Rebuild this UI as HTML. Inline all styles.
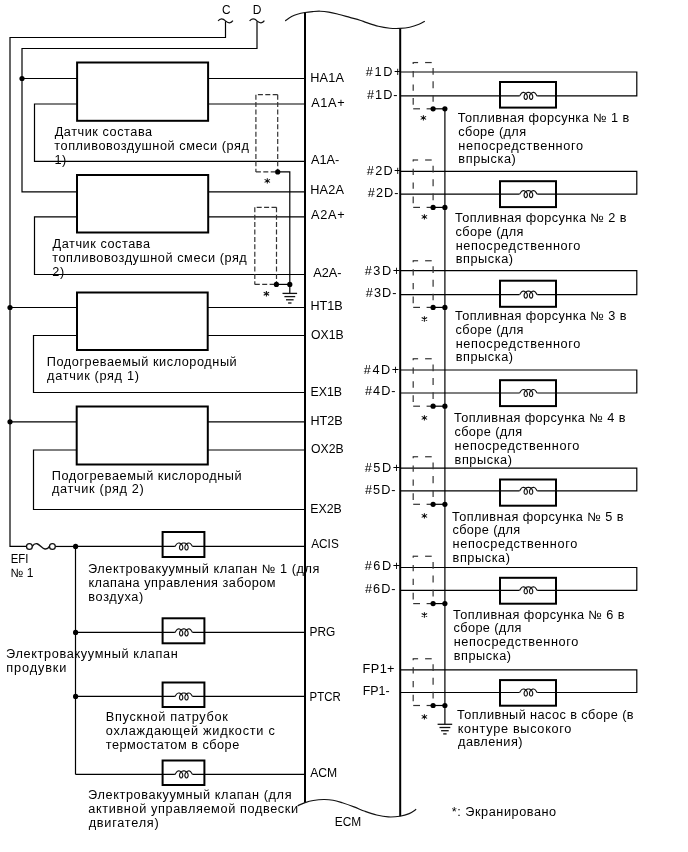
<!DOCTYPE html>
<html><head><meta charset="utf-8"><style>
html,body{margin:0;padding:0;background:#fff;width:688px;height:852px;overflow:hidden}
svg{display:block;will-change:transform}
text{font-family:"Liberation Sans",sans-serif;fill:#000}
</style></head><body>
<svg width="688" height="852" viewBox="0 0 688 852">
<rect width="688" height="852" fill="#fff"/>
<path d="M218.1,21 C219.9,18.1 222.9,18.1 225.5,20.9 C228.1,23.5 231.1,23.4 232.9,20.7" fill="none" stroke="#111" stroke-width="1.2"/>
<path d="M249.6,21 C251.4,18.1 254.4,18.1 257.0,20.9 C259.6,23.5 262.6,23.4 264.4,20.7" fill="none" stroke="#111" stroke-width="1.2"/>
<polyline points="225.5,21.2 225.5,37.5 10.0,37.5 10.0,546.45 26.5,546.45" fill="none" stroke="#000" stroke-width="1.2"/>
<polyline points="257.0,21.2 257.0,48.5 22.0,48.5 22.0,191.8 305.0,191.8" fill="none" stroke="#000" stroke-width="1.2"/>
<line x1="22.0" y1="78.5" x2="305.0" y2="78.5" stroke="#000" stroke-width="1.2"/>
<polyline points="305.0,104 34.5,104 34.5,161.3 305.0,161.3" fill="none" stroke="#000" stroke-width="1.2"/>
<polyline points="305.0,216.8 34.5,216.8 34.5,274.5 305.0,274.5" fill="none" stroke="#000" stroke-width="1.2"/>
<line x1="10.0" y1="307.5" x2="305.0" y2="307.5" stroke="#000" stroke-width="1.2"/>
<polyline points="305.0,335.5 33.5,335.5 33.5,392.5 305.0,392.5" fill="none" stroke="#000" stroke-width="1.2"/>
<line x1="10.0" y1="421.8" x2="305.0" y2="421.8" stroke="#000" stroke-width="1.2"/>
<polyline points="305.0,450 33.5,450 33.5,509.5 305.0,509.5" fill="none" stroke="#000" stroke-width="1.2"/>
<line x1="55.4" y1="546.45" x2="76.0" y2="546.45" stroke="#000" stroke-width="1.2"/>
<line x1="75.5" y1="546.45" x2="75.5" y2="774.4" stroke="#000" stroke-width="1.2"/>
<path d="M174.90,546.45 C175.80,545.85 176.30,543.05 178.47,542.95 L178.99,542.98 L179.50,543.09 L179.99,543.25 L180.46,543.48 L180.90,543.77 L181.31,544.11 L181.67,544.49 L181.99,544.92 L182.26,545.37 L182.47,545.84 L182.63,546.33 L182.74,546.82 L182.79,547.30 L182.78,547.76 L182.73,548.20 L182.62,548.60 L182.48,548.97 L182.29,549.28 L182.07,549.54 L181.83,549.74 L181.56,549.87 L181.29,549.94 L181.01,549.94 L180.74,549.87 L180.47,549.74 L180.23,549.54 L180.01,549.28 L179.82,548.97 L179.68,548.60 L179.57,548.20 L179.52,547.76 L179.51,547.30 L179.56,546.82 L179.67,546.33 L179.83,545.84 L180.04,545.37 L180.31,544.92 L180.63,544.49 L180.99,544.11 L181.40,543.77 L181.84,543.48 L182.31,543.25 L182.80,543.09 L183.31,542.98 L183.83,542.95 L184.34,542.98 L184.85,543.09 L185.34,543.25 L185.81,543.48 L186.25,543.77 L186.66,544.11 L187.02,544.49 L187.34,544.92 L187.61,545.37 L187.82,545.84 L187.98,546.33 L188.09,546.82 L188.14,547.30 L188.13,547.76 L188.08,548.20 L187.97,548.60 L187.83,548.97 L187.64,549.28 L187.42,549.54 L187.18,549.74 L186.91,549.87 L186.64,549.94 L186.36,549.94 L186.09,549.87 L185.82,549.74 L185.58,549.54 L185.36,549.28 L185.17,548.97 L185.03,548.60 L184.92,548.20 L184.87,547.76 L184.86,547.30 L184.91,546.82 L185.02,546.33 L185.18,545.84 L185.39,545.37 L185.66,544.92 L185.98,544.49 L186.34,544.11 L186.75,543.77 L187.19,543.48 L187.66,543.25 L188.15,543.09 L188.66,542.98 L189.18,542.95 C191.20,543.05 191.70,545.85 192.60,546.45" fill="none" stroke="#111" stroke-width="1.15" stroke-linejoin="round"/>
<line x1="75.5" y1="546.45" x2="174.9" y2="546.45" stroke="#000" stroke-width="1.2"/>
<line x1="192.6" y1="546.45" x2="305.0" y2="546.45" stroke="#000" stroke-width="1.2"/>
<path d="M174.90,632.40 C175.80,631.80 176.30,629.00 178.47,628.90 L178.99,628.93 L179.50,629.04 L179.99,629.20 L180.46,629.43 L180.90,629.72 L181.31,630.06 L181.67,630.44 L181.99,630.87 L182.26,631.32 L182.47,631.79 L182.63,632.28 L182.74,632.77 L182.79,633.25 L182.78,633.71 L182.73,634.15 L182.62,634.55 L182.48,634.92 L182.29,635.23 L182.07,635.49 L181.83,635.69 L181.56,635.82 L181.29,635.89 L181.01,635.89 L180.74,635.82 L180.47,635.69 L180.23,635.49 L180.01,635.23 L179.82,634.92 L179.68,634.55 L179.57,634.15 L179.52,633.71 L179.51,633.25 L179.56,632.77 L179.67,632.28 L179.83,631.79 L180.04,631.32 L180.31,630.87 L180.63,630.44 L180.99,630.06 L181.40,629.72 L181.84,629.43 L182.31,629.20 L182.80,629.04 L183.31,628.93 L183.83,628.90 L184.34,628.93 L184.85,629.04 L185.34,629.20 L185.81,629.43 L186.25,629.72 L186.66,630.06 L187.02,630.44 L187.34,630.87 L187.61,631.32 L187.82,631.79 L187.98,632.28 L188.09,632.77 L188.14,633.25 L188.13,633.71 L188.08,634.15 L187.97,634.55 L187.83,634.92 L187.64,635.23 L187.42,635.49 L187.18,635.69 L186.91,635.82 L186.64,635.89 L186.36,635.89 L186.09,635.82 L185.82,635.69 L185.58,635.49 L185.36,635.23 L185.17,634.92 L185.03,634.55 L184.92,634.15 L184.87,633.71 L184.86,633.25 L184.91,632.77 L185.02,632.28 L185.18,631.79 L185.39,631.32 L185.66,630.87 L185.98,630.44 L186.34,630.06 L186.75,629.72 L187.19,629.43 L187.66,629.20 L188.15,629.04 L188.66,628.93 L189.18,628.90 C191.20,629.00 191.70,631.80 192.60,632.40" fill="none" stroke="#111" stroke-width="1.15" stroke-linejoin="round"/>
<line x1="75.5" y1="632.4" x2="174.9" y2="632.4" stroke="#000" stroke-width="1.2"/>
<line x1="192.6" y1="632.4" x2="305.0" y2="632.4" stroke="#000" stroke-width="1.2"/>
<path d="M174.90,696.45 C175.80,695.85 176.30,693.05 178.47,692.95 L178.99,692.98 L179.50,693.09 L179.99,693.25 L180.46,693.48 L180.90,693.77 L181.31,694.11 L181.67,694.49 L181.99,694.92 L182.26,695.37 L182.47,695.84 L182.63,696.33 L182.74,696.82 L182.79,697.30 L182.78,697.76 L182.73,698.20 L182.62,698.60 L182.48,698.97 L182.29,699.28 L182.07,699.54 L181.83,699.74 L181.56,699.87 L181.29,699.94 L181.01,699.94 L180.74,699.87 L180.47,699.74 L180.23,699.54 L180.01,699.28 L179.82,698.97 L179.68,698.60 L179.57,698.20 L179.52,697.76 L179.51,697.30 L179.56,696.82 L179.67,696.33 L179.83,695.84 L180.04,695.37 L180.31,694.92 L180.63,694.49 L180.99,694.11 L181.40,693.77 L181.84,693.48 L182.31,693.25 L182.80,693.09 L183.31,692.98 L183.83,692.95 L184.34,692.98 L184.85,693.09 L185.34,693.25 L185.81,693.48 L186.25,693.77 L186.66,694.11 L187.02,694.49 L187.34,694.92 L187.61,695.37 L187.82,695.84 L187.98,696.33 L188.09,696.82 L188.14,697.30 L188.13,697.76 L188.08,698.20 L187.97,698.60 L187.83,698.97 L187.64,699.28 L187.42,699.54 L187.18,699.74 L186.91,699.87 L186.64,699.94 L186.36,699.94 L186.09,699.87 L185.82,699.74 L185.58,699.54 L185.36,699.28 L185.17,698.97 L185.03,698.60 L184.92,698.20 L184.87,697.76 L184.86,697.30 L184.91,696.82 L185.02,696.33 L185.18,695.84 L185.39,695.37 L185.66,694.92 L185.98,694.49 L186.34,694.11 L186.75,693.77 L187.19,693.48 L187.66,693.25 L188.15,693.09 L188.66,692.98 L189.18,692.95 C191.20,693.05 191.70,695.85 192.60,696.45" fill="none" stroke="#111" stroke-width="1.15" stroke-linejoin="round"/>
<line x1="75.5" y1="696.45" x2="174.9" y2="696.45" stroke="#000" stroke-width="1.2"/>
<line x1="192.6" y1="696.45" x2="305.0" y2="696.45" stroke="#000" stroke-width="1.2"/>
<path d="M174.90,774.40 C175.80,773.80 176.30,771.00 178.47,770.90 L178.99,770.93 L179.50,771.04 L179.99,771.20 L180.46,771.43 L180.90,771.72 L181.31,772.06 L181.67,772.44 L181.99,772.87 L182.26,773.32 L182.47,773.79 L182.63,774.28 L182.74,774.77 L182.79,775.25 L182.78,775.71 L182.73,776.15 L182.62,776.55 L182.48,776.92 L182.29,777.23 L182.07,777.49 L181.83,777.69 L181.56,777.82 L181.29,777.89 L181.01,777.89 L180.74,777.82 L180.47,777.69 L180.23,777.49 L180.01,777.23 L179.82,776.92 L179.68,776.55 L179.57,776.15 L179.52,775.71 L179.51,775.25 L179.56,774.77 L179.67,774.28 L179.83,773.79 L180.04,773.32 L180.31,772.87 L180.63,772.44 L180.99,772.06 L181.40,771.72 L181.84,771.43 L182.31,771.20 L182.80,771.04 L183.31,770.93 L183.83,770.90 L184.34,770.93 L184.85,771.04 L185.34,771.20 L185.81,771.43 L186.25,771.72 L186.66,772.06 L187.02,772.44 L187.34,772.87 L187.61,773.32 L187.82,773.79 L187.98,774.28 L188.09,774.77 L188.14,775.25 L188.13,775.71 L188.08,776.15 L187.97,776.55 L187.83,776.92 L187.64,777.23 L187.42,777.49 L187.18,777.69 L186.91,777.82 L186.64,777.89 L186.36,777.89 L186.09,777.82 L185.82,777.69 L185.58,777.49 L185.36,777.23 L185.17,776.92 L185.03,776.55 L184.92,776.15 L184.87,775.71 L184.86,775.25 L184.91,774.77 L185.02,774.28 L185.18,773.79 L185.39,773.32 L185.66,772.87 L185.98,772.44 L186.34,772.06 L186.75,771.72 L187.19,771.43 L187.66,771.20 L188.15,771.04 L188.66,770.93 L189.18,770.90 C191.20,771.00 191.70,773.80 192.60,774.40" fill="none" stroke="#111" stroke-width="1.15" stroke-linejoin="round"/>
<line x1="75.5" y1="774.4" x2="174.9" y2="774.4" stroke="#000" stroke-width="1.2"/>
<line x1="192.6" y1="774.4" x2="305.0" y2="774.4" stroke="#000" stroke-width="1.2"/>
<path d="M277.7,94.7 H255.9" stroke="#333" stroke-width="1.2" stroke-dasharray="5 2.4" fill="none"/>
<path d="M277.7,94.7 V171.9" stroke="#333" stroke-width="1.2" stroke-dasharray="5 2.4" fill="none"/>
<path d="M255.9,94.7 V171.9" stroke="#333" stroke-width="1.2" stroke-dasharray="5 2.4" fill="none"/>
<path d="M255.9,171.9 H277.7" stroke="#333" stroke-width="1.2" stroke-dasharray="5 2.4" fill="none"/>
<path d="M276.5,207.3 H254.8" stroke="#333" stroke-width="1.2" stroke-dasharray="5 2.4" fill="none"/>
<path d="M276.5,207.3 V284.4" stroke="#333" stroke-width="1.2" stroke-dasharray="5 2.4" fill="none"/>
<path d="M254.8,207.3 V284.4" stroke="#333" stroke-width="1.2" stroke-dasharray="5 2.4" fill="none"/>
<path d="M254.8,284.4 H276.5" stroke="#333" stroke-width="1.2" stroke-dasharray="5 2.4" fill="none"/>
<polyline points="277.7,171.9 289.8,171.9 289.8,293.4" fill="none" stroke="#000" stroke-width="1.2"/>
<line x1="276.5" y1="284.4" x2="289.8" y2="284.4" stroke="#000" stroke-width="1.2"/>
<line x1="282.5" y1="293.4" x2="297.1" y2="293.4" stroke="#111" stroke-width="1.3"/>
<line x1="284.40000000000003" y1="296.59999999999997" x2="295.2" y2="296.59999999999997" stroke="#111" stroke-width="1.3"/>
<line x1="286.0" y1="299.79999999999995" x2="293.6" y2="299.79999999999995" stroke="#111" stroke-width="1.3"/>
<line x1="288.1" y1="303.0" x2="291.5" y2="303.0" stroke="#111" stroke-width="1.3"/>
<circle cx="277.7" cy="171.9" r="2.6" fill="#000"/>
<circle cx="276.4" cy="284.4" r="2.6" fill="#000"/>
<circle cx="289.8" cy="284.4" r="2.6" fill="#000"/>
<circle cx="22.0" cy="78.5" r="2.6" fill="#000"/>
<circle cx="10.0" cy="307.5" r="2.6" fill="#000"/>
<circle cx="10.0" cy="421.8" r="2.6" fill="#000"/>
<circle cx="75.6" cy="546.45" r="2.6" fill="#000"/>
<circle cx="75.6" cy="632.4" r="2.6" fill="#000"/>
<circle cx="75.6" cy="696.45" r="2.6" fill="#000"/>
<rect x="77.1" y="62.5" width="131.0" height="58.3" fill="#fff" stroke="#000" stroke-width="2.0"/>
<rect x="77" y="175" width="131.2" height="57.5" fill="#fff" stroke="#000" stroke-width="2.0"/>
<rect x="77" y="292.5" width="130.7" height="57.5" fill="#fff" stroke="#000" stroke-width="2.0"/>
<rect x="76.7" y="406.5" width="131.10000000000002" height="58.0" fill="#fff" stroke="#000" stroke-width="2.0"/>
<rect x="162.6" y="532" width="41.80000000000001" height="25" fill="none" stroke="#000" stroke-width="2.0"/>
<rect x="162.6" y="618.3" width="41.80000000000001" height="25.0" fill="none" stroke="#000" stroke-width="2.0"/>
<rect x="162.6" y="682.5" width="41.80000000000001" height="24.5" fill="none" stroke="#000" stroke-width="2.0"/>
<rect x="162.6" y="760.5" width="41.80000000000001" height="24.5" fill="none" stroke="#000" stroke-width="2.0"/>
<circle cx="29.4" cy="546.45" r="2.9" fill="#fff" stroke="#111" stroke-width="1.3"/>
<circle cx="52.4" cy="546.45" r="2.9" fill="#fff" stroke="#111" stroke-width="1.3"/>
<path d="M32.3,546.3 C34,543.6 35.5,543.4 37,543.7 C39.5,544.3 42.5,549 45,549 C47,549.2 48.5,548 49.5,546.3" fill="none" stroke="#111" stroke-width="1.4"/>
<path d="M519.50,95.90 C520.40,95.30 520.90,92.50 523.08,92.40 L523.59,92.43 L524.10,92.54 L524.59,92.70 L525.06,92.93 L525.50,93.22 L525.91,93.56 L526.27,93.94 L526.59,94.37 L526.86,94.82 L527.07,95.29 L527.23,95.78 L527.34,96.27 L527.39,96.75 L527.38,97.21 L527.33,97.65 L527.22,98.05 L527.08,98.42 L526.89,98.73 L526.67,98.99 L526.43,99.19 L526.16,99.32 L525.89,99.39 L525.61,99.39 L525.34,99.32 L525.07,99.19 L524.83,98.99 L524.61,98.73 L524.42,98.42 L524.28,98.05 L524.17,97.65 L524.12,97.21 L524.11,96.75 L524.16,96.27 L524.27,95.78 L524.43,95.29 L524.64,94.82 L524.91,94.37 L525.23,93.94 L525.59,93.56 L526.00,93.22 L526.44,92.93 L526.91,92.70 L527.40,92.54 L527.91,92.43 L528.42,92.40 L528.94,92.43 L529.45,92.54 L529.94,92.70 L530.41,92.93 L530.85,93.22 L531.26,93.56 L531.62,93.94 L531.94,94.37 L532.21,94.82 L532.42,95.29 L532.58,95.78 L532.69,96.27 L532.74,96.75 L532.73,97.21 L532.68,97.65 L532.57,98.05 L532.43,98.42 L532.24,98.73 L532.02,98.99 L531.78,99.19 L531.51,99.32 L531.24,99.39 L530.96,99.39 L530.69,99.32 L530.42,99.19 L530.18,98.99 L529.96,98.73 L529.77,98.42 L529.63,98.05 L529.52,97.65 L529.47,97.21 L529.46,96.75 L529.51,96.27 L529.62,95.78 L529.78,95.29 L529.99,94.82 L530.26,94.37 L530.58,93.94 L530.94,93.56 L531.35,93.22 L531.79,92.93 L532.26,92.70 L532.75,92.54 L533.26,92.43 L533.77,92.40 C535.80,92.50 536.30,95.30 537.20,95.90" fill="none" stroke="#111" stroke-width="1.15" stroke-linejoin="round"/>
<polyline points="519.5,95.9 400.2,95.9" fill="none" stroke="#000" stroke-width="1.2"/>
<polyline points="537.2,95.9 636.8,95.9 636.8,72.0 400.2,72.0" fill="none" stroke="#000" stroke-width="1.2"/>
<line x1="413.2" y1="62.55" x2="418.09999999999997" y2="62.55" stroke="#333" stroke-width="1.2"/>
<line x1="425.09999999999997" y1="62.55" x2="431.7" y2="62.55" stroke="#333" stroke-width="1.2"/>
<line x1="433.09999999999997" y1="68.1" x2="433.09999999999997" y2="74.7" stroke="#333" stroke-width="1.2"/>
<line x1="433.09999999999997" y1="81.3" x2="433.09999999999997" y2="88.25" stroke="#333" stroke-width="1.2"/>
<line x1="433.09999999999997" y1="95.19999999999999" x2="433.09999999999997" y2="101.8" stroke="#333" stroke-width="1.2"/>
<line x1="413.2" y1="108.8" x2="420.0" y2="108.8" stroke="#333" stroke-width="1.2"/>
<line x1="426.59999999999997" y1="108.8" x2="433.09999999999997" y2="108.8" stroke="#333" stroke-width="1.2"/>
<line x1="413.2" y1="62.05" x2="413.2" y2="64.05" stroke="#333" stroke-width="1.2"/>
<line x1="413.2" y1="71.0" x2="413.2" y2="77.2" stroke="#333" stroke-width="1.2"/>
<line x1="413.2" y1="84.6" x2="413.2" y2="90.69999999999999" stroke="#333" stroke-width="1.2"/>
<line x1="413.2" y1="98.1" x2="413.2" y2="104.69999999999999" stroke="#333" stroke-width="1.2"/>
<rect x="500.0" y="82.0" width="56.0" height="25.599999999999994" fill="none" stroke="#000" stroke-width="2.0"/>
<line x1="433.1" y1="108.8" x2="444.9" y2="108.8" stroke="#000" stroke-width="1.2"/>
<circle cx="433.1" cy="108.8" r="2.6" fill="#000"/>
<circle cx="444.9" cy="108.8" r="2.6" fill="#000"/>
<path d="M519.50,194.10 C520.40,193.50 520.90,190.70 523.08,190.60 L523.59,190.63 L524.10,190.74 L524.59,190.90 L525.06,191.13 L525.50,191.42 L525.91,191.76 L526.27,192.14 L526.59,192.57 L526.86,193.02 L527.07,193.49 L527.23,193.98 L527.34,194.47 L527.39,194.95 L527.38,195.41 L527.33,195.85 L527.22,196.25 L527.08,196.62 L526.89,196.93 L526.67,197.19 L526.43,197.39 L526.16,197.52 L525.89,197.59 L525.61,197.59 L525.34,197.52 L525.07,197.39 L524.83,197.19 L524.61,196.93 L524.42,196.62 L524.28,196.25 L524.17,195.85 L524.12,195.41 L524.11,194.95 L524.16,194.47 L524.27,193.98 L524.43,193.49 L524.64,193.02 L524.91,192.57 L525.23,192.14 L525.59,191.76 L526.00,191.42 L526.44,191.13 L526.91,190.90 L527.40,190.74 L527.91,190.63 L528.42,190.60 L528.94,190.63 L529.45,190.74 L529.94,190.90 L530.41,191.13 L530.85,191.42 L531.26,191.76 L531.62,192.14 L531.94,192.57 L532.21,193.02 L532.42,193.49 L532.58,193.98 L532.69,194.47 L532.74,194.95 L532.73,195.41 L532.68,195.85 L532.57,196.25 L532.43,196.62 L532.24,196.93 L532.02,197.19 L531.78,197.39 L531.51,197.52 L531.24,197.59 L530.96,197.59 L530.69,197.52 L530.42,197.39 L530.18,197.19 L529.96,196.93 L529.77,196.62 L529.63,196.25 L529.52,195.85 L529.47,195.41 L529.46,194.95 L529.51,194.47 L529.62,193.98 L529.78,193.49 L529.99,193.02 L530.26,192.57 L530.58,192.14 L530.94,191.76 L531.35,191.42 L531.79,191.13 L532.26,190.90 L532.75,190.74 L533.26,190.63 L533.77,190.60 C535.80,190.70 536.30,193.50 537.20,194.10" fill="none" stroke="#111" stroke-width="1.15" stroke-linejoin="round"/>
<polyline points="519.5,194.1 400.2,194.1" fill="none" stroke="#000" stroke-width="1.2"/>
<polyline points="537.2,194.1 636.8,194.1 636.8,171.3 400.2,171.3" fill="none" stroke="#000" stroke-width="1.2"/>
<line x1="413.2" y1="160.0" x2="418.09999999999997" y2="160.0" stroke="#333" stroke-width="1.2"/>
<line x1="425.09999999999997" y1="160.0" x2="431.7" y2="160.0" stroke="#333" stroke-width="1.2"/>
<line x1="433.09999999999997" y1="165.688" x2="433.09999999999997" y2="172.45210810810812" stroke="#333" stroke-width="1.2"/>
<line x1="433.09999999999997" y1="179.21621621621622" x2="433.09999999999997" y2="186.33902702702704" stroke="#333" stroke-width="1.2"/>
<line x1="433.09999999999997" y1="193.46183783783783" x2="433.09999999999997" y2="200.22594594594597" stroke="#333" stroke-width="1.2"/>
<line x1="413.2" y1="207.4" x2="420.0" y2="207.4" stroke="#333" stroke-width="1.2"/>
<line x1="426.59999999999997" y1="207.4" x2="433.09999999999997" y2="207.4" stroke="#333" stroke-width="1.2"/>
<line x1="413.2" y1="159.48756756756757" x2="413.2" y2="161.5372972972973" stroke="#333" stroke-width="1.2"/>
<line x1="413.2" y1="168.66010810810812" x2="413.2" y2="175.0142702702703" stroke="#333" stroke-width="1.2"/>
<line x1="413.2" y1="182.5982702702703" x2="413.2" y2="188.84994594594596" stroke="#333" stroke-width="1.2"/>
<line x1="413.2" y1="196.43394594594594" x2="413.2" y2="203.19805405405407" stroke="#333" stroke-width="1.2"/>
<rect x="500.0" y="181.2" width="56.0" height="25.900000000000006" fill="none" stroke="#000" stroke-width="2.0"/>
<line x1="433.1" y1="207.4" x2="444.9" y2="207.4" stroke="#000" stroke-width="1.2"/>
<circle cx="433.1" cy="207.4" r="2.6" fill="#000"/>
<circle cx="444.9" cy="207.4" r="2.6" fill="#000"/>
<path d="M519.50,294.60 C520.40,294.00 520.90,291.20 523.08,291.10 L523.59,291.13 L524.10,291.24 L524.59,291.40 L525.06,291.63 L525.50,291.92 L525.91,292.26 L526.27,292.64 L526.59,293.07 L526.86,293.52 L527.07,293.99 L527.23,294.48 L527.34,294.97 L527.39,295.45 L527.38,295.91 L527.33,296.35 L527.22,296.75 L527.08,297.12 L526.89,297.43 L526.67,297.69 L526.43,297.89 L526.16,298.02 L525.89,298.09 L525.61,298.09 L525.34,298.02 L525.07,297.89 L524.83,297.69 L524.61,297.43 L524.42,297.12 L524.28,296.75 L524.17,296.35 L524.12,295.91 L524.11,295.45 L524.16,294.97 L524.27,294.48 L524.43,293.99 L524.64,293.52 L524.91,293.07 L525.23,292.64 L525.59,292.26 L526.00,291.92 L526.44,291.63 L526.91,291.40 L527.40,291.24 L527.91,291.13 L528.42,291.10 L528.94,291.13 L529.45,291.24 L529.94,291.40 L530.41,291.63 L530.85,291.92 L531.26,292.26 L531.62,292.64 L531.94,293.07 L532.21,293.52 L532.42,293.99 L532.58,294.48 L532.69,294.97 L532.74,295.45 L532.73,295.91 L532.68,296.35 L532.57,296.75 L532.43,297.12 L532.24,297.43 L532.02,297.69 L531.78,297.89 L531.51,298.02 L531.24,298.09 L530.96,298.09 L530.69,298.02 L530.42,297.89 L530.18,297.69 L529.96,297.43 L529.77,297.12 L529.63,296.75 L529.52,296.35 L529.47,295.91 L529.46,295.45 L529.51,294.97 L529.62,294.48 L529.78,293.99 L529.99,293.52 L530.26,293.07 L530.58,292.64 L530.94,292.26 L531.35,291.92 L531.79,291.63 L532.26,291.40 L532.75,291.24 L533.26,291.13 L533.77,291.10 C535.80,291.20 536.30,294.00 537.20,294.60" fill="none" stroke="#111" stroke-width="1.15" stroke-linejoin="round"/>
<polyline points="519.5,294.6 400.2,294.6" fill="none" stroke="#000" stroke-width="1.2"/>
<polyline points="537.2,294.6 636.8,294.6 636.8,270.6 400.2,270.6" fill="none" stroke="#000" stroke-width="1.2"/>
<line x1="413.2" y1="260.75" x2="418.09999999999997" y2="260.75" stroke="#333" stroke-width="1.2"/>
<line x1="425.09999999999997" y1="260.75" x2="431.7" y2="260.75" stroke="#333" stroke-width="1.2"/>
<line x1="433.09999999999997" y1="266.348" x2="433.09999999999997" y2="273.0050810810811" stroke="#333" stroke-width="1.2"/>
<line x1="433.09999999999997" y1="279.66216216216213" x2="433.09999999999997" y2="286.67227027027025" stroke="#333" stroke-width="1.2"/>
<line x1="433.09999999999997" y1="293.68237837837836" x2="433.09999999999997" y2="300.3394594594594" stroke="#333" stroke-width="1.2"/>
<line x1="413.2" y1="307.4" x2="420.0" y2="307.4" stroke="#333" stroke-width="1.2"/>
<line x1="426.59999999999997" y1="307.4" x2="433.09999999999997" y2="307.4" stroke="#333" stroke-width="1.2"/>
<line x1="413.2" y1="260.24567567567567" x2="413.2" y2="262.262972972973" stroke="#333" stroke-width="1.2"/>
<line x1="413.2" y1="269.2730810810811" x2="413.2" y2="275.5267027027027" stroke="#333" stroke-width="1.2"/>
<line x1="413.2" y1="282.9907027027027" x2="413.2" y2="289.14345945945945" stroke="#333" stroke-width="1.2"/>
<line x1="413.2" y1="296.60745945945945" x2="413.2" y2="303.2645405405405" stroke="#333" stroke-width="1.2"/>
<rect x="500.0" y="280.7" width="56.0" height="26.100000000000023" fill="none" stroke="#000" stroke-width="2.0"/>
<line x1="433.1" y1="307.4" x2="444.9" y2="307.4" stroke="#000" stroke-width="1.2"/>
<circle cx="433.1" cy="307.4" r="2.6" fill="#000"/>
<circle cx="444.9" cy="307.4" r="2.6" fill="#000"/>
<path d="M519.50,393.00 C520.40,392.40 520.90,389.60 523.08,389.50 L523.59,389.53 L524.10,389.64 L524.59,389.80 L525.06,390.03 L525.50,390.32 L525.91,390.66 L526.27,391.04 L526.59,391.47 L526.86,391.92 L527.07,392.39 L527.23,392.88 L527.34,393.37 L527.39,393.85 L527.38,394.31 L527.33,394.75 L527.22,395.15 L527.08,395.52 L526.89,395.83 L526.67,396.09 L526.43,396.29 L526.16,396.42 L525.89,396.49 L525.61,396.49 L525.34,396.42 L525.07,396.29 L524.83,396.09 L524.61,395.83 L524.42,395.52 L524.28,395.15 L524.17,394.75 L524.12,394.31 L524.11,393.85 L524.16,393.37 L524.27,392.88 L524.43,392.39 L524.64,391.92 L524.91,391.47 L525.23,391.04 L525.59,390.66 L526.00,390.32 L526.44,390.03 L526.91,389.80 L527.40,389.64 L527.91,389.53 L528.42,389.50 L528.94,389.53 L529.45,389.64 L529.94,389.80 L530.41,390.03 L530.85,390.32 L531.26,390.66 L531.62,391.04 L531.94,391.47 L532.21,391.92 L532.42,392.39 L532.58,392.88 L532.69,393.37 L532.74,393.85 L532.73,394.31 L532.68,394.75 L532.57,395.15 L532.43,395.52 L532.24,395.83 L532.02,396.09 L531.78,396.29 L531.51,396.42 L531.24,396.49 L530.96,396.49 L530.69,396.42 L530.42,396.29 L530.18,396.09 L529.96,395.83 L529.77,395.52 L529.63,395.15 L529.52,394.75 L529.47,394.31 L529.46,393.85 L529.51,393.37 L529.62,392.88 L529.78,392.39 L529.99,391.92 L530.26,391.47 L530.58,391.04 L530.94,390.66 L531.35,390.32 L531.79,390.03 L532.26,389.80 L532.75,389.64 L533.26,389.53 L533.77,389.50 C535.80,389.60 536.30,392.40 537.20,393.00" fill="none" stroke="#111" stroke-width="1.15" stroke-linejoin="round"/>
<polyline points="519.5,393.0 400.2,393.0" fill="none" stroke="#000" stroke-width="1.2"/>
<polyline points="537.2,393.0 636.8,393.0 636.8,370.0 400.2,370.0" fill="none" stroke="#000" stroke-width="1.2"/>
<line x1="413.2" y1="358.75" x2="418.09999999999997" y2="358.75" stroke="#333" stroke-width="1.2"/>
<line x1="425.09999999999997" y1="358.75" x2="431.7" y2="358.75" stroke="#333" stroke-width="1.2"/>
<line x1="433.09999999999997" y1="364.444" x2="433.09999999999997" y2="371.21524324324326" stroke="#333" stroke-width="1.2"/>
<line x1="433.09999999999997" y1="377.98648648648646" x2="433.09999999999997" y2="385.1168108108108" stroke="#333" stroke-width="1.2"/>
<line x1="433.09999999999997" y1="392.2471351351351" x2="433.09999999999997" y2="399.0183783783784" stroke="#333" stroke-width="1.2"/>
<line x1="413.2" y1="406.2" x2="420.0" y2="406.2" stroke="#333" stroke-width="1.2"/>
<line x1="426.59999999999997" y1="406.2" x2="433.09999999999997" y2="406.2" stroke="#333" stroke-width="1.2"/>
<line x1="413.2" y1="358.237027027027" x2="413.2" y2="360.2889189189189" stroke="#333" stroke-width="1.2"/>
<line x1="413.2" y1="367.4192432432432" x2="413.2" y2="373.7801081081081" stroke="#333" stroke-width="1.2"/>
<line x1="413.2" y1="381.3721081081081" x2="413.2" y2="387.6303783783784" stroke="#333" stroke-width="1.2"/>
<line x1="413.2" y1="395.2223783783784" x2="413.2" y2="401.9936216216216" stroke="#333" stroke-width="1.2"/>
<rect x="500.0" y="380.2" width="56.0" height="25.900000000000034" fill="none" stroke="#000" stroke-width="2.0"/>
<line x1="433.1" y1="406.2" x2="444.9" y2="406.2" stroke="#000" stroke-width="1.2"/>
<circle cx="433.1" cy="406.2" r="2.6" fill="#000"/>
<circle cx="444.9" cy="406.2" r="2.6" fill="#000"/>
<path d="M519.50,490.80 C520.40,490.20 520.90,487.40 523.08,487.30 L523.59,487.33 L524.10,487.44 L524.59,487.60 L525.06,487.83 L525.50,488.12 L525.91,488.46 L526.27,488.84 L526.59,489.27 L526.86,489.72 L527.07,490.19 L527.23,490.68 L527.34,491.17 L527.39,491.65 L527.38,492.11 L527.33,492.55 L527.22,492.95 L527.08,493.32 L526.89,493.63 L526.67,493.89 L526.43,494.09 L526.16,494.22 L525.89,494.29 L525.61,494.29 L525.34,494.22 L525.07,494.09 L524.83,493.89 L524.61,493.63 L524.42,493.32 L524.28,492.95 L524.17,492.55 L524.12,492.11 L524.11,491.65 L524.16,491.17 L524.27,490.68 L524.43,490.19 L524.64,489.72 L524.91,489.27 L525.23,488.84 L525.59,488.46 L526.00,488.12 L526.44,487.83 L526.91,487.60 L527.40,487.44 L527.91,487.33 L528.42,487.30 L528.94,487.33 L529.45,487.44 L529.94,487.60 L530.41,487.83 L530.85,488.12 L531.26,488.46 L531.62,488.84 L531.94,489.27 L532.21,489.72 L532.42,490.19 L532.58,490.68 L532.69,491.17 L532.74,491.65 L532.73,492.11 L532.68,492.55 L532.57,492.95 L532.43,493.32 L532.24,493.63 L532.02,493.89 L531.78,494.09 L531.51,494.22 L531.24,494.29 L530.96,494.29 L530.69,494.22 L530.42,494.09 L530.18,493.89 L529.96,493.63 L529.77,493.32 L529.63,492.95 L529.52,492.55 L529.47,492.11 L529.46,491.65 L529.51,491.17 L529.62,490.68 L529.78,490.19 L529.99,489.72 L530.26,489.27 L530.58,488.84 L530.94,488.46 L531.35,488.12 L531.79,487.83 L532.26,487.60 L532.75,487.44 L533.26,487.33 L533.77,487.30 C535.80,487.40 536.30,490.20 537.20,490.80" fill="none" stroke="#111" stroke-width="1.15" stroke-linejoin="round"/>
<polyline points="519.5,490.8 400.2,490.8" fill="none" stroke="#000" stroke-width="1.2"/>
<polyline points="537.2,490.8 636.8,490.8 636.8,468.2 400.2,468.2" fill="none" stroke="#000" stroke-width="1.2"/>
<line x1="413.2" y1="456.75" x2="418.09999999999997" y2="456.75" stroke="#333" stroke-width="1.2"/>
<line x1="425.09999999999997" y1="456.75" x2="431.7" y2="456.75" stroke="#333" stroke-width="1.2"/>
<line x1="433.09999999999997" y1="462.456" x2="433.09999999999997" y2="469.2415135135135" stroke="#333" stroke-width="1.2"/>
<line x1="433.09999999999997" y1="476.02702702702703" x2="433.09999999999997" y2="483.17237837837837" stroke="#333" stroke-width="1.2"/>
<line x1="433.09999999999997" y1="490.31772972972976" x2="433.09999999999997" y2="497.10324324324324" stroke="#333" stroke-width="1.2"/>
<line x1="413.2" y1="504.3" x2="420.0" y2="504.3" stroke="#333" stroke-width="1.2"/>
<line x1="426.59999999999997" y1="504.3" x2="433.09999999999997" y2="504.3" stroke="#333" stroke-width="1.2"/>
<line x1="413.2" y1="456.23594594594596" x2="413.2" y2="458.2921621621622" stroke="#333" stroke-width="1.2"/>
<line x1="413.2" y1="465.4375135135135" x2="413.2" y2="471.81178378378377" stroke="#333" stroke-width="1.2"/>
<line x1="413.2" y1="479.41978378378377" x2="413.2" y2="485.69124324324326" stroke="#333" stroke-width="1.2"/>
<line x1="413.2" y1="493.29924324324327" x2="413.2" y2="500.08475675675675" stroke="#333" stroke-width="1.2"/>
<rect x="500.0" y="479.5" width="56.0" height="26.19999999999999" fill="none" stroke="#000" stroke-width="2.0"/>
<line x1="433.1" y1="504.3" x2="444.9" y2="504.3" stroke="#000" stroke-width="1.2"/>
<circle cx="433.1" cy="504.3" r="2.6" fill="#000"/>
<circle cx="444.9" cy="504.3" r="2.6" fill="#000"/>
<path d="M519.50,590.30 C520.40,589.70 520.90,586.90 523.08,586.80 L523.59,586.83 L524.10,586.94 L524.59,587.10 L525.06,587.33 L525.50,587.62 L525.91,587.96 L526.27,588.34 L526.59,588.77 L526.86,589.22 L527.07,589.69 L527.23,590.18 L527.34,590.67 L527.39,591.15 L527.38,591.61 L527.33,592.05 L527.22,592.45 L527.08,592.82 L526.89,593.13 L526.67,593.39 L526.43,593.59 L526.16,593.72 L525.89,593.79 L525.61,593.79 L525.34,593.72 L525.07,593.59 L524.83,593.39 L524.61,593.13 L524.42,592.82 L524.28,592.45 L524.17,592.05 L524.12,591.61 L524.11,591.15 L524.16,590.67 L524.27,590.18 L524.43,589.69 L524.64,589.22 L524.91,588.77 L525.23,588.34 L525.59,587.96 L526.00,587.62 L526.44,587.33 L526.91,587.10 L527.40,586.94 L527.91,586.83 L528.42,586.80 L528.94,586.83 L529.45,586.94 L529.94,587.10 L530.41,587.33 L530.85,587.62 L531.26,587.96 L531.62,588.34 L531.94,588.77 L532.21,589.22 L532.42,589.69 L532.58,590.18 L532.69,590.67 L532.74,591.15 L532.73,591.61 L532.68,592.05 L532.57,592.45 L532.43,592.82 L532.24,593.13 L532.02,593.39 L531.78,593.59 L531.51,593.72 L531.24,593.79 L530.96,593.79 L530.69,593.72 L530.42,593.59 L530.18,593.39 L529.96,593.13 L529.77,592.82 L529.63,592.45 L529.52,592.05 L529.47,591.61 L529.46,591.15 L529.51,590.67 L529.62,590.18 L529.78,589.69 L529.99,589.22 L530.26,588.77 L530.58,588.34 L530.94,587.96 L531.35,587.62 L531.79,587.33 L532.26,587.10 L532.75,586.94 L533.26,586.83 L533.77,586.80 C535.80,586.90 536.30,589.70 537.20,590.30" fill="none" stroke="#111" stroke-width="1.15" stroke-linejoin="round"/>
<polyline points="519.5,590.3 400.2,590.3" fill="none" stroke="#000" stroke-width="1.2"/>
<polyline points="537.2,590.3 636.8,590.3 636.8,567.5 400.2,567.5" fill="none" stroke="#000" stroke-width="1.2"/>
<line x1="413.2" y1="556.25" x2="418.09999999999997" y2="556.25" stroke="#333" stroke-width="1.2"/>
<line x1="425.09999999999997" y1="556.25" x2="431.7" y2="556.25" stroke="#333" stroke-width="1.2"/>
<line x1="433.09999999999997" y1="561.932" x2="433.09999999999997" y2="568.688972972973" stroke="#333" stroke-width="1.2"/>
<line x1="433.09999999999997" y1="575.4459459459459" x2="433.09999999999997" y2="582.5612432432432" stroke="#333" stroke-width="1.2"/>
<line x1="433.09999999999997" y1="589.6765405405406" x2="433.09999999999997" y2="596.4335135135135" stroke="#333" stroke-width="1.2"/>
<line x1="413.2" y1="603.6" x2="420.0" y2="603.6" stroke="#333" stroke-width="1.2"/>
<line x1="426.59999999999997" y1="603.6" x2="433.09999999999997" y2="603.6" stroke="#333" stroke-width="1.2"/>
<line x1="413.2" y1="555.7381081081081" x2="413.2" y2="557.7856756756756" stroke="#333" stroke-width="1.2"/>
<line x1="413.2" y1="564.900972972973" x2="413.2" y2="571.2484324324324" stroke="#333" stroke-width="1.2"/>
<line x1="413.2" y1="578.8244324324324" x2="413.2" y2="585.0695135135135" stroke="#333" stroke-width="1.2"/>
<line x1="413.2" y1="592.6455135135135" x2="413.2" y2="599.4024864864865" stroke="#333" stroke-width="1.2"/>
<rect x="500.0" y="577.8" width="56.0" height="25.90000000000009" fill="none" stroke="#000" stroke-width="2.0"/>
<line x1="433.1" y1="603.6" x2="444.9" y2="603.6" stroke="#000" stroke-width="1.2"/>
<circle cx="433.1" cy="603.6" r="2.6" fill="#000"/>
<circle cx="444.9" cy="603.6" r="2.6" fill="#000"/>
<path d="M519.50,692.50 C520.40,691.90 520.90,689.10 523.08,689.00 L523.59,689.03 L524.10,689.14 L524.59,689.30 L525.06,689.53 L525.50,689.82 L525.91,690.16 L526.27,690.54 L526.59,690.97 L526.86,691.42 L527.07,691.89 L527.23,692.38 L527.34,692.87 L527.39,693.35 L527.38,693.81 L527.33,694.25 L527.22,694.65 L527.08,695.02 L526.89,695.33 L526.67,695.59 L526.43,695.79 L526.16,695.92 L525.89,695.99 L525.61,695.99 L525.34,695.92 L525.07,695.79 L524.83,695.59 L524.61,695.33 L524.42,695.02 L524.28,694.65 L524.17,694.25 L524.12,693.81 L524.11,693.35 L524.16,692.87 L524.27,692.38 L524.43,691.89 L524.64,691.42 L524.91,690.97 L525.23,690.54 L525.59,690.16 L526.00,689.82 L526.44,689.53 L526.91,689.30 L527.40,689.14 L527.91,689.03 L528.42,689.00 L528.94,689.03 L529.45,689.14 L529.94,689.30 L530.41,689.53 L530.85,689.82 L531.26,690.16 L531.62,690.54 L531.94,690.97 L532.21,691.42 L532.42,691.89 L532.58,692.38 L532.69,692.87 L532.74,693.35 L532.73,693.81 L532.68,694.25 L532.57,694.65 L532.43,695.02 L532.24,695.33 L532.02,695.59 L531.78,695.79 L531.51,695.92 L531.24,695.99 L530.96,695.99 L530.69,695.92 L530.42,695.79 L530.18,695.59 L529.96,695.33 L529.77,695.02 L529.63,694.65 L529.52,694.25 L529.47,693.81 L529.46,693.35 L529.51,692.87 L529.62,692.38 L529.78,691.89 L529.99,691.42 L530.26,690.97 L530.58,690.54 L530.94,690.16 L531.35,689.82 L531.79,689.53 L532.26,689.30 L532.75,689.14 L533.26,689.03 L533.77,689.00 C535.80,689.10 536.30,691.90 537.20,692.50" fill="none" stroke="#111" stroke-width="1.15" stroke-linejoin="round"/>
<polyline points="519.5,692.5 400.2,692.5" fill="none" stroke="#000" stroke-width="1.2"/>
<polyline points="537.2,692.5 636.8,692.5 636.8,669.9 400.2,669.9" fill="none" stroke="#000" stroke-width="1.2"/>
<line x1="413.2" y1="658.75" x2="418.09999999999997" y2="658.75" stroke="#333" stroke-width="1.2"/>
<line x1="425.09999999999997" y1="658.75" x2="431.7" y2="658.75" stroke="#333" stroke-width="1.2"/>
<line x1="433.09999999999997" y1="664.36" x2="433.09999999999997" y2="671.0313513513513" stroke="#333" stroke-width="1.2"/>
<line x1="433.09999999999997" y1="677.7027027027027" x2="433.09999999999997" y2="684.7278378378378" stroke="#333" stroke-width="1.2"/>
<line x1="433.09999999999997" y1="691.752972972973" x2="433.09999999999997" y2="698.4243243243243" stroke="#333" stroke-width="1.2"/>
<line x1="413.2" y1="705.5" x2="420.0" y2="705.5" stroke="#333" stroke-width="1.2"/>
<line x1="426.59999999999997" y1="705.5" x2="433.09999999999997" y2="705.5" stroke="#333" stroke-width="1.2"/>
<line x1="413.2" y1="658.2445945945946" x2="413.2" y2="660.2662162162162" stroke="#333" stroke-width="1.2"/>
<line x1="413.2" y1="667.2913513513513" x2="413.2" y2="673.5583783783784" stroke="#333" stroke-width="1.2"/>
<line x1="413.2" y1="681.0383783783784" x2="413.2" y2="687.2043243243243" stroke="#333" stroke-width="1.2"/>
<line x1="413.2" y1="694.6843243243243" x2="413.2" y2="701.3556756756757" stroke="#333" stroke-width="1.2"/>
<rect x="500.0" y="680.1" width="56.0" height="25.600000000000023" fill="none" stroke="#000" stroke-width="2.0"/>
<line x1="433.1" y1="705.5" x2="444.9" y2="705.5" stroke="#000" stroke-width="1.2"/>
<circle cx="433.1" cy="705.5" r="2.6" fill="#000"/>
<circle cx="444.9" cy="705.5" r="2.6" fill="#000"/>
<line x1="444.9" y1="108.8" x2="444.9" y2="724.3" stroke="#000" stroke-width="1.2"/>
<line x1="437.59999999999997" y1="724.3" x2="452.2" y2="724.3" stroke="#111" stroke-width="1.3"/>
<line x1="439.5" y1="727.5" x2="450.29999999999995" y2="727.5" stroke="#111" stroke-width="1.3"/>
<line x1="441.09999999999997" y1="730.6999999999999" x2="448.7" y2="730.6999999999999" stroke="#111" stroke-width="1.3"/>
<line x1="443.2" y1="733.9" x2="446.59999999999997" y2="733.9" stroke="#111" stroke-width="1.3"/>
<line x1="305.0" y1="12.2" x2="305.0" y2="802.8" stroke="#000" stroke-width="2.0"/>
<line x1="400.2" y1="28.4" x2="400.2" y2="816.3" stroke="#000" stroke-width="2.0"/>
<path d="M285.20,20.90 C286.27,20.18 289.57,17.72 291.60,16.60 C293.63,15.48 295.17,14.88 297.40,14.20 C299.63,13.52 302.47,12.93 305.00,12.50 C307.53,12.07 310.08,11.82 312.60,11.60 C315.12,11.38 317.40,11.12 320.10,11.20 C322.80,11.28 325.80,11.60 328.80,12.10 C331.80,12.60 334.60,13.32 338.10,14.20 C341.60,15.08 346.15,16.40 349.80,17.40 C353.45,18.40 357.20,19.33 360.00,20.20 C362.80,21.07 363.55,21.58 366.60,22.60 C369.65,23.62 374.42,25.37 378.30,26.30 C382.18,27.23 386.32,27.85 389.90,28.20 C393.48,28.55 396.50,28.55 399.80,28.40 C403.10,28.25 406.50,27.98 409.70,27.30 C412.90,26.62 416.48,25.32 419.00,24.30 C421.52,23.28 423.83,21.72 424.80,21.20 " fill="none" stroke="#111" stroke-width="1.15"/>
<path d="M297.60,805.70 C298.85,805.18 302.48,803.47 305.10,802.60 C307.72,801.73 310.20,801.02 313.30,800.50 C316.40,799.98 320.42,799.55 323.70,799.50 C326.98,799.45 329.90,799.65 333.00,800.20 C336.10,800.75 338.80,801.68 342.30,802.80 C345.80,803.92 350.22,805.48 354.00,806.90 C357.78,808.32 361.23,809.95 365.00,811.30 C368.77,812.65 372.72,814.07 376.60,815.00 C380.48,815.93 384.42,816.70 388.30,816.90 C392.18,817.10 396.42,816.75 399.90,816.20 C403.38,815.65 406.48,814.75 409.20,813.60 C411.92,812.45 415.03,810.02 416.20,809.30 " fill="none" stroke="#111" stroke-width="1.15"/>
<text x="310.24" y="81.90" font-size="12.0" letter-spacing="0.183" textLength="34.01" lengthAdjust="spacingAndGlyphs">HA1A</text>
<text x="311.25" y="107.00" font-size="12.0" letter-spacing="0.600" textLength="34.01" lengthAdjust="spacingAndGlyphs">A1A+</text>
<text x="311.05" y="164.10" font-size="12.0" letter-spacing="0.000" textLength="28.21" lengthAdjust="spacingAndGlyphs">A1A-</text>
<text x="310.24" y="193.90" font-size="12.0" letter-spacing="0.183" textLength="34.01" lengthAdjust="spacingAndGlyphs">HA2A</text>
<text x="311.05" y="219.10" font-size="12.0" letter-spacing="0.663" textLength="34.28" lengthAdjust="spacingAndGlyphs">A2A+</text>
<text x="313.15" y="277.00" font-size="12.0" letter-spacing="0.011" textLength="28.32" lengthAdjust="spacingAndGlyphs">A2A-</text>
<text x="310.45" y="309.90" font-size="12.0" letter-spacing="0.000" textLength="32.26" lengthAdjust="spacingAndGlyphs">HT1B</text>
<text x="311.14" y="338.50" font-size="12.0" letter-spacing="0.000" textLength="32.54" lengthAdjust="spacingAndGlyphs">OX1B</text>
<text x="310.47" y="395.80" font-size="12.0" letter-spacing="0.000" textLength="31.58" lengthAdjust="spacingAndGlyphs">EX1B</text>
<text x="310.45" y="424.90" font-size="12.0" letter-spacing="0.000" textLength="32.26" lengthAdjust="spacingAndGlyphs">HT2B</text>
<text x="311.14" y="453.10" font-size="12.0" letter-spacing="0.000" textLength="32.54" lengthAdjust="spacingAndGlyphs">OX2B</text>
<text x="310.27" y="512.80" font-size="12.0" letter-spacing="0.000" textLength="31.48" lengthAdjust="spacingAndGlyphs">EX2B</text>
<text x="311.25" y="547.70" font-size="12.0" letter-spacing="0.000" textLength="27.50" lengthAdjust="spacingAndGlyphs">ACIS</text>
<text x="309.51" y="635.80" font-size="12.0" letter-spacing="0.000" textLength="25.79" lengthAdjust="spacingAndGlyphs">PRG</text>
<text x="309.55" y="700.80" font-size="12.0" letter-spacing="0.000" textLength="31.09" lengthAdjust="spacingAndGlyphs">PTCR</text>
<text x="310.25" y="776.80" font-size="12.0" letter-spacing="0.000" textLength="26.98" lengthAdjust="spacingAndGlyphs">ACM</text>
<text x="334.71" y="825.80" font-size="12.0" letter-spacing="0.000" textLength="26.50" lengthAdjust="spacingAndGlyphs">ECM</text>
<text x="365.85" y="75.80" font-size="12.0" letter-spacing="1.525" textLength="37.23" lengthAdjust="spacingAndGlyphs">#1D+</text>
<text x="366.95" y="98.70" font-size="12.0" letter-spacing="0.967" textLength="31.67" lengthAdjust="spacingAndGlyphs">#1D-</text>
<text x="366.75" y="175.00" font-size="12.0" letter-spacing="1.242" textLength="36.03" lengthAdjust="spacingAndGlyphs">#2D+</text>
<text x="367.85" y="196.90" font-size="12.0" letter-spacing="0.967" textLength="31.67" lengthAdjust="spacingAndGlyphs">#2D-</text>
<text x="364.75" y="275.00" font-size="12.0" letter-spacing="1.462" textLength="36.96" lengthAdjust="spacingAndGlyphs">#3D+</text>
<text x="365.85" y="296.70" font-size="12.0" letter-spacing="0.936" textLength="31.54" lengthAdjust="spacingAndGlyphs">#3D-</text>
<text x="363.85" y="373.80" font-size="12.0" letter-spacing="1.462" textLength="36.96" lengthAdjust="spacingAndGlyphs">#4D+</text>
<text x="364.95" y="394.90" font-size="12.0" letter-spacing="0.967" textLength="31.67" lengthAdjust="spacingAndGlyphs">#4D-</text>
<text x="364.75" y="471.90" font-size="12.0" letter-spacing="1.462" textLength="36.96" lengthAdjust="spacingAndGlyphs">#5D+</text>
<text x="364.95" y="493.50" font-size="12.0" letter-spacing="0.967" textLength="31.67" lengthAdjust="spacingAndGlyphs">#5D-</text>
<text x="364.75" y="570.10" font-size="12.0" letter-spacing="1.462" textLength="36.96" lengthAdjust="spacingAndGlyphs">#6D+</text>
<text x="364.95" y="592.50" font-size="12.0" letter-spacing="0.967" textLength="31.67" lengthAdjust="spacingAndGlyphs">#6D-</text>
<text x="362.64" y="672.80" font-size="12.0" letter-spacing="0.364" textLength="32.30" lengthAdjust="spacingAndGlyphs">FP1+</text>
<text x="362.67" y="694.80" font-size="12.0" letter-spacing="0.000" textLength="26.91" lengthAdjust="spacingAndGlyphs">FP1-</text>
<text x="222.01" y="13.95" font-size="12.0" letter-spacing="0.000" textLength="8.55" lengthAdjust="spacingAndGlyphs">C</text>
<text x="252.70" y="13.95" font-size="12.0" letter-spacing="0.000" textLength="8.67" lengthAdjust="spacingAndGlyphs">D</text>
<text x="10.65" y="563.10" font-size="12.0" letter-spacing="0.000" textLength="17.66" lengthAdjust="spacingAndGlyphs">EFI</text>
<text x="10.49" y="577.00" font-size="12.0" letter-spacing="0.000" textLength="22.99" lengthAdjust="spacingAndGlyphs">№ 1</text>
<path d="M267.3,178.20000000000002 V183.6 M264.6,179.4 L270.0,182.4 M264.6,182.4 L270.0,179.4" stroke="#111" stroke-width="1.05" fill="none"/>
<path d="M266.4,291.1 V296.5 M263.7,292.3 L269.09999999999997,295.3 M263.7,295.3 L269.09999999999997,292.3" stroke="#111" stroke-width="1.05" fill="none"/>
<path d="M423.4,115.2 V120.60000000000001 M420.7,116.4 L426.09999999999997,119.4 M420.7,119.4 L426.09999999999997,116.4" stroke="#111" stroke-width="1.05" fill="none"/>
<path d="M424.4,214.20000000000002 V219.6 M421.7,215.4 L427.09999999999997,218.4 M421.7,218.4 L427.09999999999997,215.4" stroke="#111" stroke-width="1.05" fill="none"/>
<path d="M424.4,316.3 V321.7 M421.7,317.5 L427.09999999999997,320.5 M421.7,320.5 L427.09999999999997,317.5" stroke="#111" stroke-width="1.05" fill="none"/>
<path d="M424.4,415.2 V420.59999999999997 M421.7,416.4 L427.09999999999997,419.4 M421.7,419.4 L427.09999999999997,416.4" stroke="#111" stroke-width="1.05" fill="none"/>
<path d="M424.4,513.1999999999999 V518.6 M421.7,514.4 L427.09999999999997,517.4 M421.7,517.4 L427.09999999999997,514.4" stroke="#111" stroke-width="1.05" fill="none"/>
<path d="M424.4,612.3 V617.7 M421.7,613.5 L427.09999999999997,616.5 M421.7,616.5 L427.09999999999997,613.5" stroke="#111" stroke-width="1.05" fill="none"/>
<path d="M424.4,714.1999999999999 V719.6 M421.7,715.4 L427.09999999999997,718.4 M421.7,718.4 L427.09999999999997,715.4" stroke="#111" stroke-width="1.05" fill="none"/>
<text x="54.69" y="135.90" font-size="12.0" letter-spacing="0.507" textLength="97.98" lengthAdjust="spacingAndGlyphs">Датчик состава</text>
<text x="54.34" y="149.80" font-size="12.0" letter-spacing="0.514" textLength="195.06" lengthAdjust="spacingAndGlyphs">топливовоздушной смеси (ряд</text>
<text x="54.55" y="163.70" font-size="12.0" letter-spacing="0.434" textLength="12.23" lengthAdjust="spacingAndGlyphs">1)</text>
<text x="52.59" y="247.80" font-size="12.0" letter-spacing="0.507" textLength="97.98" lengthAdjust="spacingAndGlyphs">Датчик состава</text>
<text x="52.24" y="261.70" font-size="12.0" letter-spacing="0.514" textLength="195.06" lengthAdjust="spacingAndGlyphs">топливовоздушной смеси (ряд</text>
<text x="52.36" y="275.60" font-size="12.0" letter-spacing="0.511" textLength="12.39" lengthAdjust="spacingAndGlyphs">2)</text>
<text x="46.79" y="365.80" font-size="12.0" letter-spacing="0.517" textLength="190.45" lengthAdjust="spacingAndGlyphs">Подогреваемый кислородный</text>
<text x="47.14" y="379.60" font-size="12.0" letter-spacing="0.620" textLength="92.40" lengthAdjust="spacingAndGlyphs">датчик (ряд 1)</text>
<text x="51.69" y="479.80" font-size="12.0" letter-spacing="0.517" textLength="190.45" lengthAdjust="spacingAndGlyphs">Подогреваемый кислородный</text>
<text x="52.04" y="493.40" font-size="12.0" letter-spacing="0.620" textLength="92.40" lengthAdjust="spacingAndGlyphs">датчик (ряд 2)</text>
<text x="88.11" y="572.90" font-size="12.0" letter-spacing="0.495" textLength="231.71" lengthAdjust="spacingAndGlyphs">Электровакуумный клапан № 1 (для</text>
<text x="88.40" y="586.70" font-size="12.0" letter-spacing="0.466" textLength="187.72" lengthAdjust="spacingAndGlyphs">клапана управления забором</text>
<text x="88.35" y="600.50" font-size="12.0" letter-spacing="0.606" textLength="55.55" lengthAdjust="spacingAndGlyphs">воздуха)</text>
<text x="6.11" y="657.90" font-size="12.0" letter-spacing="0.601" textLength="172.28" lengthAdjust="spacingAndGlyphs">Электровакуумный клапан</text>
<text x="6.35" y="671.60" font-size="12.0" letter-spacing="0.808" textLength="60.82" lengthAdjust="spacingAndGlyphs">продувки</text>
<text x="105.74" y="720.60" font-size="12.0" letter-spacing="0.650" textLength="122.83" lengthAdjust="spacingAndGlyphs">Впускной патрубок</text>
<text x="105.72" y="734.60" font-size="12.0" letter-spacing="0.708" textLength="169.90" lengthAdjust="spacingAndGlyphs">охлаждающей жидкости с</text>
<text x="105.74" y="748.60" font-size="12.0" letter-spacing="0.463" textLength="134.02" lengthAdjust="spacingAndGlyphs">термостатом в сборе</text>
<text x="88.11" y="798.60" font-size="12.0" letter-spacing="0.569" textLength="204.03" lengthAdjust="spacingAndGlyphs">Электровакуумный клапан (для</text>
<text x="88.32" y="812.55" font-size="12.0" letter-spacing="0.573" textLength="210.37" lengthAdjust="spacingAndGlyphs">активной управляемой подвески</text>
<text x="88.69" y="826.50" font-size="12.0" letter-spacing="0.699" textLength="70.73" lengthAdjust="spacingAndGlyphs">двигателя)</text>
<text x="451.69" y="815.90" font-size="12.0" letter-spacing="0.506" textLength="104.99" lengthAdjust="spacingAndGlyphs">*: Экранировано</text>
<text x="457.84" y="121.80" font-size="12.0" letter-spacing="0.391" textLength="171.86" lengthAdjust="spacingAndGlyphs">Топливная форсунка № 1 в</text>
<text x="458.27" y="135.67" font-size="12.0" letter-spacing="0.355" textLength="68.14" lengthAdjust="spacingAndGlyphs">сборе (для</text>
<text x="458.35" y="149.54" font-size="12.0" letter-spacing="0.626" textLength="125.44" lengthAdjust="spacingAndGlyphs">непосредственного</text>
<text x="458.35" y="163.41" font-size="12.0" letter-spacing="0.549" textLength="58.04" lengthAdjust="spacingAndGlyphs">впрыска)</text>
<text x="455.13" y="221.80" font-size="12.0" letter-spacing="0.391" textLength="171.86" lengthAdjust="spacingAndGlyphs">Топливная форсунка № 2 в</text>
<text x="455.57" y="235.67" font-size="12.0" letter-spacing="0.355" textLength="68.14" lengthAdjust="spacingAndGlyphs">сборе (для</text>
<text x="455.65" y="249.54" font-size="12.0" letter-spacing="0.626" textLength="125.44" lengthAdjust="spacingAndGlyphs">непосредственного</text>
<text x="455.65" y="263.41" font-size="12.0" letter-spacing="0.549" textLength="58.04" lengthAdjust="spacingAndGlyphs">впрыска)</text>
<text x="455.13" y="319.80" font-size="12.0" letter-spacing="0.391" textLength="171.86" lengthAdjust="spacingAndGlyphs">Топливная форсунка № 3 в</text>
<text x="455.57" y="333.67" font-size="12.0" letter-spacing="0.355" textLength="68.14" lengthAdjust="spacingAndGlyphs">сборе (для</text>
<text x="455.65" y="347.54" font-size="12.0" letter-spacing="0.626" textLength="125.44" lengthAdjust="spacingAndGlyphs">непосредственного</text>
<text x="455.65" y="361.41" font-size="12.0" letter-spacing="0.549" textLength="58.04" lengthAdjust="spacingAndGlyphs">впрыска)</text>
<text x="454.04" y="421.90" font-size="12.0" letter-spacing="0.391" textLength="171.86" lengthAdjust="spacingAndGlyphs">Топливная форсунка № 4 в</text>
<text x="454.47" y="435.77" font-size="12.0" letter-spacing="0.355" textLength="68.14" lengthAdjust="spacingAndGlyphs">сборе (для</text>
<text x="454.55" y="449.64" font-size="12.0" letter-spacing="0.626" textLength="125.44" lengthAdjust="spacingAndGlyphs">непосредственного</text>
<text x="454.55" y="463.51" font-size="12.0" letter-spacing="0.549" textLength="58.04" lengthAdjust="spacingAndGlyphs">впрыска)</text>
<text x="452.04" y="520.60" font-size="12.0" letter-spacing="0.391" textLength="171.86" lengthAdjust="spacingAndGlyphs">Топливная форсунка № 5 в</text>
<text x="452.47" y="534.47" font-size="12.0" letter-spacing="0.355" textLength="68.14" lengthAdjust="spacingAndGlyphs">сборе (для</text>
<text x="452.55" y="548.34" font-size="12.0" letter-spacing="0.626" textLength="125.44" lengthAdjust="spacingAndGlyphs">непосредственного</text>
<text x="452.55" y="562.21" font-size="12.0" letter-spacing="0.549" textLength="58.04" lengthAdjust="spacingAndGlyphs">впрыска)</text>
<text x="453.13" y="618.60" font-size="12.0" letter-spacing="0.391" textLength="171.86" lengthAdjust="spacingAndGlyphs">Топливная форсунка № 6 в</text>
<text x="453.57" y="632.47" font-size="12.0" letter-spacing="0.355" textLength="68.14" lengthAdjust="spacingAndGlyphs">сборе (для</text>
<text x="453.65" y="646.34" font-size="12.0" letter-spacing="0.626" textLength="125.44" lengthAdjust="spacingAndGlyphs">непосредственного</text>
<text x="453.65" y="660.21" font-size="12.0" letter-spacing="0.549" textLength="58.04" lengthAdjust="spacingAndGlyphs">впрыска)</text>
<text x="457.13" y="718.60" font-size="12.0" letter-spacing="0.392" textLength="176.91" lengthAdjust="spacingAndGlyphs">Топливный насос в сборе (в</text>
<text x="457.70" y="732.50" font-size="12.0" letter-spacing="0.653" textLength="114.44" lengthAdjust="spacingAndGlyphs">контуре высокого</text>
<text x="457.99" y="746.40" font-size="12.0" letter-spacing="0.450" textLength="65.00" lengthAdjust="spacingAndGlyphs">давления)</text>
</svg></body></html>
